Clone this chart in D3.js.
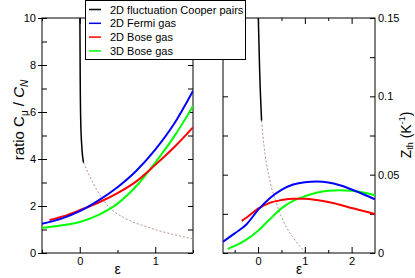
<!DOCTYPE html>
<html>
<head>
<meta charset="utf-8">
<script src="https://cdn.jsdelivr.net/npm/d3@7"></script>
<style>
  body { margin: 0; background: #fff; }
  svg { display: block; font-family: "Liberation Sans", Arial, sans-serif; }
</style>
</head>
<body>
<svg></svg>
<script>
// left panel: ratio C_mu / C_N against epsilon, pairs are [eps, value]
const coopRatio = [[0.002, 10], [0.006, 7.5], [0.013, 5.6], [0.028, 4.5], [0.05, 3.85]];
const coopRatioExt = [[0.05, 3.85], [0.12, 3.35], [0.25, 2.55], [0.38, 1.98], [0.6, 1.48], [0.9, 1.1], [1.25, 0.78], [1.5, 0.6]];
const fermiRatio = [[-0.5, 1.24], [-0.25, 1.45], [0, 1.78], [0.25, 2.24], [0.5, 2.8], [0.75, 3.5], [1.0, 4.4], [1.25, 5.5], [1.5, 6.9]];
const bose2dRatio = [[-0.4, 1.4], [-0.2, 1.58], [0, 1.82], [0.25, 2.15], [0.5, 2.55], [0.75, 3.05], [1.0, 3.75], [1.25, 4.5], [1.5, 5.35]];
const bose3dRatio = [[-0.5, 1.07], [-0.25, 1.17], [0, 1.32], [0.25, 1.62], [0.5, 2.1], [0.75, 2.85], [1.0, 3.85], [1.25, 4.95], [1.5, 6.25]];

// right panel: Z_th (1/K) against epsilon
const coopZ = [[0.005, 0.15], [0.035, 0.115], [0.075, 0.0845]];
const coopZExt = [[0.075, 0.0845], [0.1, 0.076], [0.15, 0.063], [0.25, 0.0465], [0.4, 0.031], [0.6, 0.0168], [0.8, 0.0078], [1.0, 0.0008]];
const fermiZ = [[-0.75, 0.0072], [-0.5, 0.0125], [-0.25, 0.0182], [0, 0.0275], [0.25, 0.035], [0.5, 0.0403], [0.75, 0.0437], [1.0, 0.0452], [1.25, 0.0456], [1.5, 0.045], [1.75, 0.0432], [2.0, 0.0405], [2.25, 0.0375], [2.5, 0.0343]];
const bose2dZ = [[-0.35, 0.0205], [-0.25, 0.0225], [0, 0.0283], [0.25, 0.032], [0.5, 0.0338], [0.75, 0.0347], [1.0, 0.0346], [1.25, 0.0338], [1.5, 0.0326], [1.75, 0.0308], [2.0, 0.0287], [2.25, 0.0268], [2.5, 0.0249]];
const bose3dZ = [[-0.65, 0.0026], [-0.5, 0.0045], [-0.25, 0.0085], [0, 0.0142], [0.25, 0.0215], [0.5, 0.0285], [0.75, 0.0333], [1.0, 0.0362], [1.25, 0.0384], [1.5, 0.0397], [1.75, 0.0401], [2.0, 0.0397], [2.25, 0.0386], [2.5, 0.0368]];

const legendLabels = ["2D fluctuation Cooper pairs", "2D Fermi gas", "2D Bose gas", "3D Bose gas"];
const legendColors = ["#000000", "#0000ff", "#ff0000", "#00ff00"];

const leftXTicks = [0, 1];
const leftXMinor = [-0.5, 0.5, 1.5];
const leftYTicks = [0, 2, 4, 6, 8, 10];
const leftYMinor = [1, 3, 5, 7, 9];
const rightXTicks = [0, 1, 2];
const rightXMinor = [-0.5, 0.5, 1.5];
const rightYTicks = [0, 0.05, 0.1, 0.15];
const rightYMinor = [0.025, 0.075, 0.125];

const width = 415;
const height = 278;
const plotTop = 18;
const plotBottom = 253;
const svg = d3.select("svg").attr("width", width).attr("height", height);

const xLeft = d3.scaleLinear().domain([-0.5, 1.5]).range([42, 193]);
const yLeft = d3.scaleLinear().domain([0, 10]).range([plotBottom, plotTop]);
const xRight = d3.scaleLinear().domain([-0.75, 2.5]).range([223, 375]);
const yRight = d3.scaleLinear().domain([0, 0.15]).range([plotBottom, plotTop]);

// one tick set on an edge; size < 0 means pointing into the plot
const addAxis = (axisFn, scale, values, size, pos, labels, fmt, pad) => {
  const ax = axisFn(scale).tickValues(values).tickSizeInner(size).tickSizeOuter(0)
    .tickPadding(pad || 3)
    .tickFormat(labels ? fmt : "");
  const g = svg.append("g").attr("transform", pos).call(ax);
  g.select(".domain").remove();
  g.selectAll("line").attr("stroke", "#000");
  g.selectAll("text").attr("font-size", 11).attr("fill", "#000");
  return g;
};

const drawPanel = (x, y, xt, xm, yt, ym, side, fmt) => {
  const [x0, x1] = x.range();
  addAxis(d3.axisBottom, x, xt, -6, `translate(0,${plotBottom})`, true, d3.format("d"), 4);
  addAxis(d3.axisBottom, x, xm, -3, `translate(0,${plotBottom})`, false);
  addAxis(d3.axisTop, x, xt, -6, `translate(0,${plotTop})`, false);
  addAxis(d3.axisTop, x, xm, -3, `translate(0,${plotTop})`, false);
  addAxis(d3.axisLeft, y, yt.concat(ym), -5, `translate(${x0},0)`, false);
  addAxis(d3.axisRight, y, yt.concat(ym), -5, `translate(${x1},0)`, false);
  if (side === "left") {
    addAxis(d3.axisLeft, y, yt, 4, `translate(${x0},0)`, true, fmt, 2);
  } else {
    addAxis(d3.axisRight, y, yt, -5, `translate(${x1},0)`, true, fmt, 3)
      .selectAll("line").remove();
  }
  svg.append("rect")
    .attr("x", x0).attr("y", plotTop)
    .attr("width", x1 - x0).attr("height", plotBottom - plotTop)
    .attr("fill", "none").attr("stroke", "#000").attr("stroke-width", 1);
};

drawPanel(xLeft, yLeft, leftXTicks, leftXMinor, leftYTicks, leftYMinor, "left", d3.format("d"));
drawPanel(xRight, yRight, rightXTicks, rightXMinor, rightYTicks, rightYMinor, "right",
  (d) => (d === 0 ? "0" : String(+d.toFixed(2))));

// clip paths for the two plot areas
const defs = svg.append("defs");
[["clipL", xLeft], ["clipR", xRight]].forEach(([id, x]) => {
  defs.append("clipPath").attr("id", id).append("rect")
    .attr("x", x.range()[0]).attr("y", plotTop)
    .attr("width", x.range()[1] - x.range()[0]).attr("height", plotBottom - plotTop);
});

const drawLine = (data, x, y, clip, color, w, dash) => {
  const line = d3.line().x((d) => x(d[0])).y((d) => y(d[1])).curve(d3.curveMonotoneX);
  svg.append("path")
    .datum(data)
    .attr("clip-path", `url(#${clip})`)
    .attr("d", line)
    .attr("fill", "none")
    .attr("stroke", color)
    .attr("stroke-width", w)
    .attr("stroke-dasharray", dash || null);
};

drawLine(coopRatioExt, xLeft, yLeft, "clipL", "#bc8f8f", 1, "2,2");
drawLine(bose3dRatio, xLeft, yLeft, "clipL", "#00ff00", 2);
drawLine(bose2dRatio, xLeft, yLeft, "clipL", "#ff0000", 2);
drawLine(fermiRatio, xLeft, yLeft, "clipL", "#0000ff", 2);
drawLine(coopRatio, xLeft, yLeft, "clipL", "#000000", 1.5);

drawLine(coopZExt, xRight, yRight, "clipR", "#bc8f8f", 1, "2,2");
drawLine(bose3dZ, xRight, yRight, "clipR", "#00ff00", 2);
drawLine(bose2dZ, xRight, yRight, "clipR", "#ff0000", 2);
drawLine(fermiZ, xRight, yRight, "clipR", "#0000ff", 2);
drawLine(coopZ, xRight, yRight, "clipR", "#000000", 1.5);

// axis titles
svg.append("text").attr("x", xLeft(0.5)).attr("y", 274)
  .attr("text-anchor", "middle").attr("font-size", 14).text("ε");
svg.append("text").attr("x", xRight(0.875)).attr("y", 274)
  .attr("text-anchor", "middle").attr("font-size", 14).text("ε");

const ttl = svg.append("text")
  .attr("transform", "translate(24,120) rotate(-90)")
  .attr("text-anchor", "middle").attr("font-size", 15);
ttl.append("tspan").text("ratio  C");
ttl.append("tspan").attr("font-size", 10).attr("dy", 4).text("μ");
ttl.append("tspan").attr("dy", -4).text(" / ");
ttl.append("tspan").attr("font-style", "italic").text("C");
ttl.append("tspan").attr("font-style", "italic").attr("font-size", 10).attr("dy", 4).text("N");

const ttr = svg.append("text")
  .attr("transform", "translate(411,135) rotate(-90)")
  .attr("text-anchor", "middle").attr("font-size", 14);
ttr.append("tspan").text("Z");
ttr.append("tspan").attr("font-size", 9).attr("dy", 2).text("th");
ttr.append("tspan").attr("dy", -2).text(" (K");
ttr.append("tspan").attr("font-size", 9).attr("dy", -6).text("-1");
ttr.append("tspan").attr("dy", 6).text(")");

// legend
const lg = svg.append("g");
lg.append("rect").attr("x", 85.5).attr("y", 0.5).attr("width", 160).attr("height", 59)
  .attr("fill", "#fff").attr("stroke", "#000");
legendLabels.forEach((name, i) => {
  const cy = 9.5 + i * 13.8;
  lg.append("line").attr("x1", 89).attr("x2", 101).attr("y1", cy).attr("y2", cy)
    .attr("stroke", legendColors[i]).attr("stroke-width", 1.5);
  lg.append("text").attr("x", 110).attr("y", cy + 4).attr("font-size", 11).text(name);
});
</script>
</body>
</html>
